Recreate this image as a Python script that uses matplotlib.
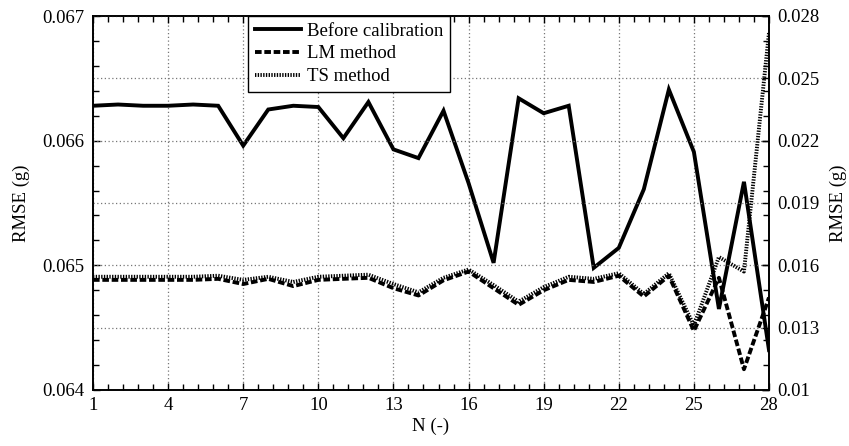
import numpy as np
import matplotlib
matplotlib.use("Agg")
import matplotlib.pyplot as plt
from matplotlib.ticker import MultipleLocator, FixedLocator
from matplotlib.lines import Line2D

# ---- data ----
N = list(range(1, 29))
before_calibration = [0.06628, 0.06629, 0.06628, 0.06628, 0.06629, 0.06628, 0.06596,
                      0.06625, 0.06628, 0.06627, 0.06602, 0.06631, 0.06593, 0.06586,
                      0.06624, 0.06566, 0.06502, 0.06634, 0.06622, 0.06628, 0.06498,
                      0.06514, 0.06561, 0.06641, 0.06591, 0.06465, 0.06567, 0.06432]
lm_method = [0.01530, 0.01530, 0.01530, 0.01530, 0.01530, 0.01535, 0.01510,
             0.01535, 0.01500, 0.01530, 0.01535, 0.01540, 0.01490, 0.01455,
             0.01528, 0.01570, 0.01490, 0.01410, 0.01480, 0.01530, 0.01520,
             0.01550, 0.01450, 0.01550, 0.01285, 0.01540, 0.01100, 0.01445]
ts_method = [0.01545, 0.01545, 0.01545, 0.01545, 0.01545, 0.01550, 0.01530,
             0.01545, 0.01520, 0.01545, 0.01550, 0.01555, 0.01510, 0.01470,
             0.01540, 0.01580, 0.01505, 0.01425, 0.01495, 0.01545, 0.01535,
             0.01562, 0.01462, 0.01562, 0.01310, 0.01640, 0.01570, 0.02720]
x_ticks = [1, 4, 7, 10, 13, 16, 19, 22, 25, 28]
left_ticks = [0.064, 0.065, 0.066, 0.067]
left_tick_labels = ["0.064", "0.065", "0.066", "0.067"]
right_ticks = [0.010, 0.013, 0.016, 0.019, 0.022, 0.025, 0.028]
right_tick_labels = ["0.01", "0.013", "0.016", "0.019", "0.022", "0.025", "0.028"]

plt.rcParams['font.family'] = ['Liberation Serif', 'DejaVu Serif']
FS = 13.5

fig = plt.figure(figsize=(8.49, 4.46), dpi=100)
ax = fig.add_axes([93/849, 1-390/446, (769-93)/849, (390-16)/446])
ax2 = ax.twinx()

lw = 2.8
ax.plot(N, before_calibration, color='black', lw=lw, solid_joinstyle='miter', zorder=3)
ax2.plot(N, lm_method, color='black', lw=lw, linestyle=(0, (1.7, 0.7)), zorder=3)
ax2.plot(N, ts_method, color='black', lw=lw, linestyle=(0, (0.35, 0.35)), zorder=4)

ax.set_xlim(1, 28)
ax.set_ylim(0.064, 0.067)
ax2.set_ylim(0.010, 0.028)

ax.set_xticks(x_ticks)
ax.set_xticklabels([str(v) for v in x_ticks], fontsize=FS)
ax.xaxis.set_minor_locator(FixedLocator(np.arange(1, 28.01, 0.6)))
ax.set_yticks(left_ticks)
ax.set_yticklabels(left_tick_labels, fontsize=FS)
ax.yaxis.set_minor_locator(MultipleLocator(0.0002))
ax2.set_yticks(right_ticks)
ax2.set_yticklabels(right_tick_labels, fontsize=FS)

ax.tick_params(axis='both', which='both', direction='in', top=True, right=True)
ax.tick_params(which='major', length=5, width=1, pad=6)
ax.tick_params(which='minor', length=4, width=1)
ax.tick_params(axis='x', pad=5)
ax2.tick_params(axis='y', which='both', direction='in', length=5, width=1, pad=6)

# grid: x majors and right-axis majors (coincide with left 0.0005 steps)
ax.grid(True, axis='x', which='major', color='#777777', linestyle=(0, (1, 2)), lw=0.9)
ax2.grid(True, axis='y', which='major', color='#777777', linestyle=(0, (1, 2)), lw=0.9)
ax.set_axisbelow(True)

for a in (ax, ax2):
    for s in a.spines.values():
        s.set_linewidth(1.2)
        s.set_color('black')

ax.set_xlabel("N (-)", fontsize=FS, labelpad=3)
ax.set_ylabel("RMSE (g)", fontsize=FS)
ax2.set_ylabel("RMSE (g)", fontsize=FS, rotation=90)
ax.yaxis.set_label_coords((30-93)/676, 0.5)
ax2.yaxis.set_label_coords((830-93)/676, 0.5)

handles = [Line2D([], [], color='black', lw=lw),
           Line2D([], [], color='black', lw=lw, linestyle=(0, (1.7, 0.7))),
           Line2D([], [], color='black', lw=lw, linestyle=(0, (0.35, 0.35)))]
leg = ax2.legend(handles, ["Before calibration", "LM method", "TS method"],
                 loc='upper left', bbox_to_anchor=((248-93)/676, 1.0),
                 borderaxespad=0, fancybox=False, framealpha=1, edgecolor='black',
                 fontsize=FS, handlelength=2.5, handletextpad=0.3, labelspacing=0.3,
                 borderpad=0.35)
leg.get_frame().set_linewidth(1.0)
leg.set_zorder(10)

fig.savefig("out.png", dpi=100)
